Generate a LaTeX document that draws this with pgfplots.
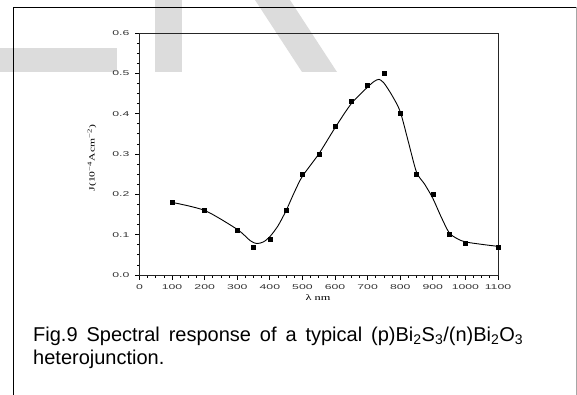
\documentclass[border=0pt]{standalone}
\usepackage{graphicx}
\usepackage{pgfplots}
\pgfplotsset{compat=1.18}
\usepackage{fontspec}
\setmainfont{Liberation Sans}
\newfontfamily\tickfont{Liberation Sans}
\newfontfamily\labfont{Liberation Serif}
\definecolor{wmgray}{HTML}{DCDCDC}
\begin{document}
\begin{tikzpicture}
\useasboundingbox (0pt,0pt) rectangle (577pt,-395pt);
% watermark shapes
\fill[wmgray] (0pt,-48pt) rectangle (117pt,-72pt);
\fill[wmgray] (155pt,0pt) rectangle (182pt,-72pt);
\fill[wmgray] (255pt,0pt) -- (290pt,0pt) -- (337pt,-72pt) -- (302pt,-72pt) -- cycle;
% frame
\draw[line width=1.6pt] (13.5pt,-395pt) -- (13.5pt,-7.5pt) -- (577pt,-7.5pt);
\draw[gray!70,line width=0.6pt] (576pt,-7.5pt) -- (576pt,-395pt);
\begin{axis}[
  at={(139.5pt,-275pt)}, anchor=south west,
  scale only axis, width=358.5pt, height=242pt,
  xmin=0, xmax=1100, ymin=0, ymax=0.6,
  xtick={0,100,...,1100}, ytick={0,0.1,...,0.6},
  minor tick num=3,
  tick align=outside,
  major tick length=4.5pt, minor tick length=2.5pt,
  xtick pos=bottom, ytick pos=left,
  axis line style={black!85, line width=0.9pt},
  every tick/.style={black, line width=0.8pt},
  /pgf/number format/assume math mode=true,
  xticklabel={\scalebox{1.75}[1]{\pgfmathprintnumber[set thousands separator={}]{\tick}}},
  yticklabel={\scalebox{1.75}[1]{\pgfmathprintnumber[fixed,precision=1,fixed zerofill]{\tick}}},
  xticklabel style={font=\tickfont\fontsize{7}{8}\selectfont, text=black!80, yshift=-1.5pt},
  yticklabel style={font=\tickfont\fontsize{7}{8}\selectfont, text=black!80, xshift=-2pt},
  xlabel={\scalebox{1.45}[1]{λ nm}},
  xlabel style={font=\labfont\fontsize{8.5}{9}\selectfont, at={(axis description cs:0.498,-0.093)}, anchor=center},
  ylabel={\scalebox{1.45}[1]{J(10\textsuperscript{−4}Acm\textsuperscript{−2})}},
  ylabel style={font=\labfont\fontsize{8}{9}\selectfont, at={(axis description cs:-0.1325,0.483)}, anchor=center},
  clip=false,
]
\addplot[black, line width=0.9pt, smooth, tension=0.45] coordinates {
(100,0.180) (200,0.160) (300,0.113) (340,0.085) (360,0.078) (380,0.082)
(400,0.095) (425,0.122) (450,0.160) (475,0.205) (500,0.245) (550,0.300)
(600,0.365) (650,0.425) (700,0.466) (720,0.480) (735,0.485) (750,0.476)
(775,0.445) (800,0.405) (825,0.330) (850,0.255) (875,0.225) (900,0.190)
(925,0.145) (950,0.105) (975,0.090) (1000,0.082) (1050,0.076) (1100,0.071)
};
\addplot[only marks, mark=square*, mark size=2pt, black] coordinates {
(100,0.18) (200,0.16) (300,0.11) (350,0.07) (400,0.09) (450,0.16)
(500,0.25) (550,0.30) (600,0.37) (650,0.43) (700,0.47) (750,0.50)
(800,0.40) (850,0.25) (900,0.20) (950,0.10) (1000,0.08) (1100,0.07)
};
\end{axis}
\node[anchor=base west, inner sep=0pt, align=left] at (33pt,-350pt)
  {\parbox{490pt}{\fontsize{20}{23}\selectfont Fig.9 Spectral response of a typical (p)Bi\textsubscript{2}S\textsubscript{3}/(n)Bi\textsubscript{2}O\textsubscript{3}\linebreak heterojunction.}};
\end{tikzpicture}
\end{document}
